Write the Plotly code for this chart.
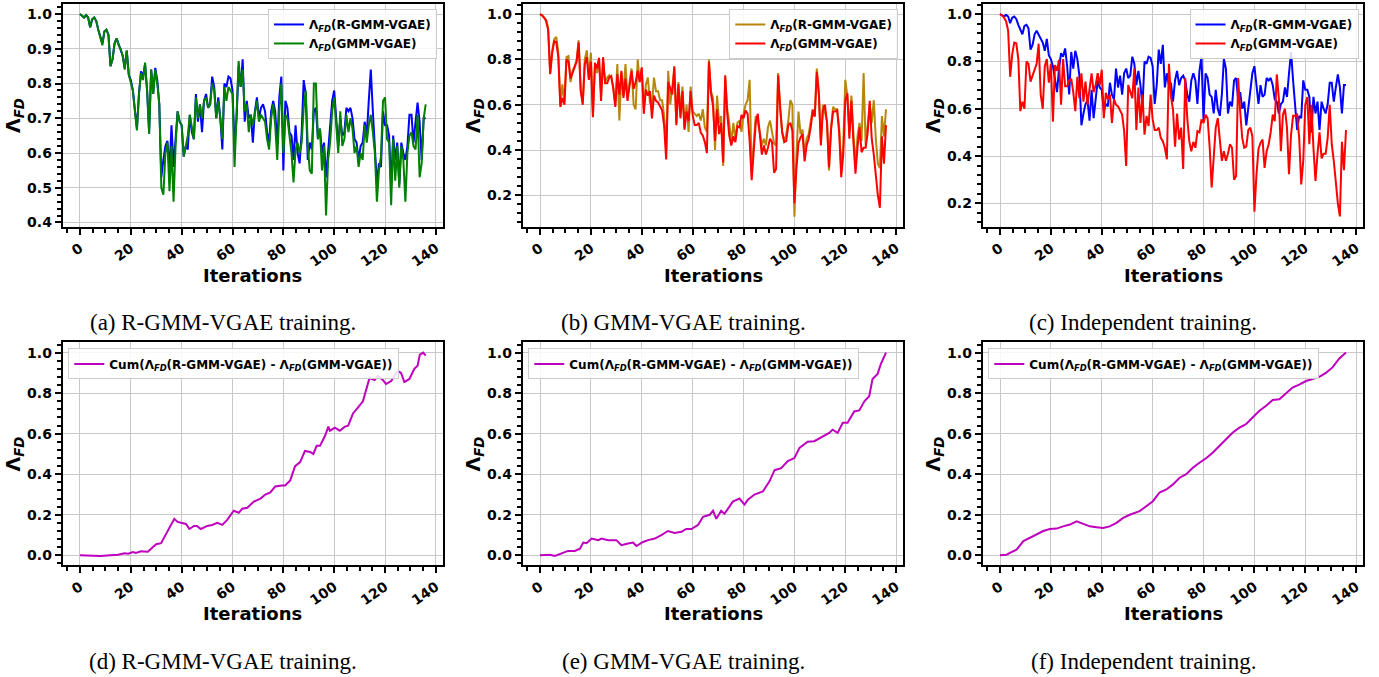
import plotly.graph_objects as go

# ---------------- data ----------------
N_STEP = 0.8
iters = [round(i * N_STEP, 1) for i in range(171)]

fd_rgmm = [1.0, 0.995, 0.99, 0.997, 0.99, 0.962, 0.985, 0.99, 0.98, 0.955,
           0.935, 0.915, 0.95, 0.955, 0.94, 0.85, 0.87, 0.915, 0.93, 0.915,
           0.90, 0.88, 0.845, 0.895, 0.825, 0.81, 0.78, 0.72, 0.67, 0.77,
           0.835, 0.82, 0.855, 0.78, 0.66, 0.84, 0.77, 0.845, 0.81, 0.74,
           0.53, 0.58, 0.62, 0.635, 0.55, 0.68, 0.56, 0.64, 0.72, 0.69,
           0.68, 0.59, 0.62, 0.61, 0.71, 0.66, 0.64, 0.77, 0.69, 0.74,
           0.66, 0.75, 0.77, 0.73, 0.74, 0.82, 0.79, 0.70, 0.76, 0.70,
           0.61, 0.80, 0.79, 0.82, 0.815, 0.78, 0.62, 0.70, 0.85, 0.79,
           0.87, 0.69, 0.75, 0.70, 0.71, 0.63, 0.72, 0.76, 0.70, 0.73,
           0.74, 0.72, 0.66, 0.63, 0.72, 0.75, 0.72, 0.62, 0.76, 0.82,
           0.55, 0.75, 0.73, 0.66, 0.65, 0.58, 0.68, 0.60, 0.57, 0.66,
           0.81, 0.77, 0.58, 0.63, 0.61, 0.72, 0.73, 0.64, 0.67, 0.60,
           0.63, 0.53, 0.60, 0.68, 0.75, 0.78, 0.70, 0.62, 0.70, 0.65,
           0.66, 0.73, 0.72, 0.73, 0.70, 0.64, 0.63, 0.58, 0.62, 0.63,
           0.69, 0.65, 0.75, 0.84, 0.72, 0.63, 0.51, 0.57, 0.56, 0.72,
           0.68, 0.68, 0.65, 0.50, 0.65, 0.58, 0.63, 0.51, 0.63, 0.60,
           0.58, 0.62, 0.71, 0.71, 0.63, 0.69, 0.745, 0.69, 0.58, 0.70,
           0.70]

fd_gmm_a = [1.0, 0.995, 0.99, 0.997, 0.99, 0.962, 0.985, 0.99, 0.98, 0.955,
            0.935, 0.91, 0.95, 0.955, 0.94, 0.85, 0.87, 0.915, 0.93, 0.91,
            0.90, 0.88, 0.84, 0.895, 0.825, 0.80, 0.78, 0.72, 0.665, 0.77,
            0.83, 0.81, 0.86, 0.78, 0.655, 0.84, 0.77, 0.84, 0.80, 0.74,
            0.50, 0.48, 0.60, 0.63, 0.49, 0.62, 0.46, 0.62, 0.72, 0.69,
            0.68, 0.59, 0.62, 0.65, 0.71, 0.68, 0.64, 0.76, 0.70, 0.74,
            0.70, 0.75, 0.76, 0.73, 0.74, 0.80, 0.78, 0.70, 0.75, 0.70,
            0.64, 0.79, 0.75, 0.79, 0.78, 0.77, 0.56, 0.70, 0.865, 0.79,
            0.84, 0.72, 0.74, 0.66, 0.71, 0.68, 0.72, 0.75, 0.69, 0.71,
            0.70, 0.69, 0.64, 0.61, 0.70, 0.74, 0.68, 0.58, 0.72, 0.80,
            0.60, 0.71, 0.70, 0.64, 0.60, 0.515, 0.61, 0.63, 0.60, 0.63,
            0.73, 0.78, 0.62, 0.55, 0.54, 0.80, 0.80, 0.64, 0.67, 0.55,
            0.62, 0.42, 0.58, 0.63, 0.72, 0.76, 0.68, 0.60, 0.72, 0.62,
            0.64, 0.71, 0.66, 0.70, 0.67, 0.60, 0.62, 0.56, 0.60, 0.58,
            0.68, 0.63, 0.68, 0.71, 0.66, 0.60, 0.46, 0.55, 0.59, 0.75,
            0.76, 0.64, 0.63, 0.45, 0.64, 0.52, 0.62, 0.50, 0.62, 0.58,
            0.46, 0.60, 0.65, 0.66, 0.62, 0.61, 0.71, 0.53, 0.57, 0.70,
            0.74]

fd_rgmm_b = [1.0, 0.995, 0.985, 0.975, 0.94, 0.74, 0.84, 0.89, 0.90, 0.83,
             0.60, 0.69, 0.61, 0.81, 0.815, 0.70, 0.75, 0.77, 0.80, 0.885,
             0.67, 0.61, 0.80, 0.84, 0.72, 0.83, 0.56, 0.77, 0.74, 0.80,
             0.65, 0.79, 0.70, 0.72, 0.73, 0.72, 0.68, 0.60, 0.78, 0.53,
             0.74, 0.64, 0.78, 0.63, 0.70, 0.76, 0.60, 0.58, 0.80, 0.70,
             0.76, 0.58, 0.69, 0.72, 0.61, 0.60, 0.72, 0.66, 0.66, 0.62,
             0.62, 0.55, 0.40, 0.75, 0.60, 0.68, 0.76, 0.52, 0.70, 0.57,
             0.68, 0.50, 0.60, 0.48, 0.68, 0.57, 0.56, 0.55, 0.56, 0.53,
             0.58, 0.50, 0.48, 0.80, 0.66, 0.63, 0.40, 0.64, 0.52, 0.55,
             0.33, 0.72, 0.58, 0.52, 0.43, 0.52, 0.45, 0.52, 0.53, 0.48,
             0.56, 0.60, 0.62, 0.71, 0.30, 0.42, 0.55, 0.52, 0.48, 0.42,
             0.45, 0.42, 0.50, 0.53, 0.48, 0.43, 0.42, 0.74, 0.58, 0.48,
             0.44, 0.47, 0.53, 0.62, 0.60, 0.105, 0.38, 0.57, 0.47, 0.49,
             0.38, 0.45, 0.47, 0.52, 0.58, 0.55, 0.76, 0.66, 0.44, 0.60,
             0.57, 0.53, 0.31, 0.50, 0.59, 0.58, 0.58, 0.50, 0.32, 0.42,
             0.71, 0.64, 0.48, 0.64, 0.47, 0.33, 0.46, 0.52, 0.44, 0.74,
             0.42, 0.50, 0.60, 0.52, 0.62, 0.45, 0.34, 0.32, 0.55, 0.46,
             0.58]

fd_gmm = [1.0, 0.995, 0.985, 0.97, 0.93, 0.735, 0.83, 0.88, 0.877, 0.81,
          0.59, 0.63, 0.60, 0.80, 0.79, 0.715, 0.74, 0.765, 0.79, 0.875,
          0.66, 0.60, 0.78, 0.81, 0.71, 0.79, 0.545, 0.785, 0.76, 0.807,
          0.617, 0.81, 0.695, 0.695, 0.72, 0.727, 0.67, 0.59, 0.735, 0.645,
          0.75, 0.63, 0.715, 0.617, 0.695, 0.75, 0.67, 0.70, 0.75, 0.70,
          0.765, 0.56, 0.667, 0.64, 0.66, 0.54, 0.64, 0.617, 0.61, 0.59,
          0.575, 0.505, 0.358, 0.70, 0.67, 0.645, 0.77, 0.51, 0.69, 0.54,
          0.66, 0.49, 0.57, 0.527, 0.66, 0.555, 0.51, 0.51, 0.52, 0.477,
          0.463, 0.435, 0.386, 0.79, 0.65, 0.596, 0.44, 0.58, 0.47, 0.52,
          0.345, 0.73, 0.56, 0.463, 0.42, 0.46, 0.435, 0.505, 0.50, 0.555,
          0.54, 0.575, 0.56, 0.44, 0.267, 0.386, 0.52, 0.56, 0.45, 0.38,
          0.42, 0.38, 0.41, 0.45, 0.435, 0.30, 0.316, 0.73, 0.59, 0.477,
          0.435, 0.44, 0.51, 0.52, 0.484, 0.165, 0.32, 0.43, 0.456, 0.47,
          0.35, 0.42, 0.45, 0.50, 0.575, 0.547, 0.745, 0.645, 0.42, 0.575,
          0.60, 0.52, 0.323, 0.49, 0.57, 0.57, 0.575, 0.477, 0.28, 0.38,
          0.617, 0.65, 0.45, 0.617, 0.435, 0.295, 0.41, 0.50, 0.39, 0.41,
          0.41, 0.477, 0.617, 0.45, 0.38, 0.28, 0.20, 0.145, 0.46, 0.34,
          0.51]

cum_d_x = [0, 4, 8, 12, 15, 17.5, 19, 20.8, 22, 24, 26.7, 28.6, 30, 31.9, 33.2,
           35.2, 37.1, 38.4, 40, 41.7, 43, 44.9, 46, 47.5, 50.1, 52, 54, 56,
           57.9, 60.5, 62.5, 63.8, 65.8, 67, 68.4, 71, 72.9, 74.9, 76.8, 79.4,
           80.7, 82.7, 84.6, 86.6, 88.5, 90.5, 91.8, 93.1, 94.4, 96.4, 97.7,
           98.3, 100.3, 102.2, 104.2, 105.5, 107.4, 109.4, 111.3, 113.9, 115.9,
           117.2, 119.1, 120.4, 122.4, 125, 126.3, 127.6, 129.6, 131.5, 132.8,
           133.7, 135, 136]
cum_d_y = [0.0, -0.001, -0.003, 0.0, 0.003, 0.01, 0.008, 0.016, 0.012, 0.02,
           0.018, 0.04, 0.055, 0.06, 0.09, 0.13, 0.18, 0.165, 0.16, 0.155,
           0.13, 0.145, 0.145, 0.13, 0.145, 0.15, 0.16, 0.15, 0.175, 0.22,
           0.21, 0.23, 0.235, 0.25, 0.265, 0.28, 0.30, 0.31, 0.34, 0.345,
           0.345, 0.37, 0.44, 0.46, 0.515, 0.51, 0.50, 0.54, 0.54, 0.59,
           0.635, 0.615, 0.63, 0.615, 0.635, 0.64, 0.70, 0.73, 0.76, 0.875,
           0.865, 0.885, 0.865, 0.845, 0.86, 0.91, 0.90, 0.855, 0.87, 0.92,
           0.935, 0.99, 1.0, 0.985]

cum_e_x = [0, 3.9, 5.9, 8.5, 11, 13.7, 15.7, 17, 18.3, 20.3, 22.9, 24.2, 26.8,
           30, 32, 34.6, 36.6, 37.9, 40.5, 42.5, 45.1, 47.7, 50.3, 52.9, 55.6,
           57.5, 59.5, 62.1, 64.1, 66.7, 68, 69.3, 71.2, 72.5, 73.9, 75.8,
           78.4, 80.4, 81.7, 84.3, 87.6, 90.2, 92.2, 94.8, 97.4, 100, 102,
           105.2, 107.8, 111.8, 113.7, 115, 117, 119, 120.9, 123.5, 125.5,
           127.5, 129.4, 130.7, 132.7, 134, 136]
cum_e_y = [0.0, 0.003, -0.003, 0.008, 0.022, 0.022, 0.033, 0.063, 0.06, 0.083,
           0.075, 0.083, 0.075, 0.075, 0.05, 0.058, 0.063, 0.046, 0.066, 0.075,
           0.083, 0.10, 0.12, 0.11, 0.116, 0.13, 0.13, 0.15, 0.19, 0.20, 0.22,
           0.18, 0.22, 0.205, 0.23, 0.265, 0.28, 0.25, 0.275, 0.30, 0.315,
           0.365, 0.42, 0.43, 0.465, 0.48, 0.53, 0.56, 0.563, 0.59, 0.604,
           0.62, 0.604, 0.654, 0.654, 0.71, 0.715, 0.76, 0.785, 0.87, 0.895,
           0.945, 1.0]

cum_f_x = [0, 2.6, 3.9, 6.5, 9.2, 11.8, 14.4, 17, 19.6, 22.2, 24.8, 27.5, 30.1,
           32.7, 35.3, 37.9, 40.5, 43.1, 45.8, 48.4, 51, 54.9, 57.5, 60.1,
           62.7, 65.4, 68, 70.6, 73.2, 75.8, 78.4, 81, 83.7, 86.3, 88.9, 91.5,
           94.1, 96.7, 99.3, 102, 104.6, 107.2, 109.8, 112.4, 115, 117.6,
           120.3, 122.9, 125.5, 128.1, 130.7, 133.3, 136]
cum_f_y = [0.0, 0.003, 0.012, 0.028, 0.07, 0.086, 0.10, 0.12, 0.13, 0.132,
           0.143, 0.152, 0.168, 0.155, 0.143, 0.139, 0.135, 0.143, 0.16, 0.185,
           0.20, 0.218, 0.243, 0.267, 0.31, 0.325, 0.35, 0.383, 0.40, 0.432,
           0.457, 0.479, 0.507, 0.54, 0.573, 0.606, 0.63, 0.647, 0.68, 0.713,
           0.738, 0.766, 0.77, 0.80, 0.828, 0.842, 0.86, 0.87, 0.88, 0.90,
           0.927, 0.97, 1.0]

x_ticks = [0, 20, 40, 60, 80, 100, 120, 140]
captions = ["(a) R-GMM-VGAE training.", "(b) GMM-VGAE training.", "(c) Independent training.",
            "(d) R-GMM-VGAE training.", "(e) GMM-VGAE training.", "(f) Independent training."]

# ---------------- styling ----------------
W, H = 1379, 677
BLUE, GREEN, GOLD, RED, MAG = "#0000ff", "#008000", "#b8860b", "#ff0000", "#bf00bf"
LBL = lambda name: "<b>Λ<sub><i>FD</i></sub>(" + name + ")</b>"
CUM = "<b>Cum(Λ<sub><i>FD</i></sub>(R-GMM-VGAE) - Λ<sub><i>FD</i></sub>(GMM-VGAE))</b>"

lefts = [62.7, 522.7, 982.7]
rights = [443.0, 903.3, 1363.3]
row_px = [(4, 228), (344, 568)]

fig = go.Figure()

panels = [
    (0, 0, [(fd_rgmm, iters, BLUE, LBL("R-GMM-VGAE")), (fd_gmm_a, iters, GREEN, LBL("GMM-VGAE"))], [0.387, 1.029], 0.1, 0.02),
    (0, 1, [(fd_rgmm_b, iters, GOLD, LBL("R-GMM-VGAE")), (fd_gmm, iters, RED, LBL("GMM-VGAE"))], [0.06, 1.045], 0.2, 0.04),
    (0, 2, [(fd_rgmm, iters, BLUE, LBL("R-GMM-VGAE")), (fd_gmm, iters, RED, LBL("GMM-VGAE"))], [0.10, 1.043], 0.2, 0.04),
    (1, 0, [(cum_d_y, cum_d_x, MAG, CUM)], [-0.05, 1.05], 0.2, 0.04),
    (1, 1, [(cum_e_y, cum_e_x, MAG, CUM)], [-0.05, 1.05], 0.2, 0.04),
    (1, 2, [(cum_f_y, cum_f_x, MAG, CUM)], [-0.05, 1.05], 0.2, 0.04),
]

tickfont = dict(family="DejaVu Sans", size=14, color="black", weight="bold")
annotations = []
for k, (r, c, trs, yr, ydt, ymin) in enumerate(panels):
    n = k + 1
    xa = "x" if n == 1 else f"x{n}"
    ya = "y" if n == 1 else f"y{n}"
    lg = "legend" if n == 1 else f"legend{n}"
    top, bot = row_px[r]
    xdom = [lefts[c] / W, rights[c] / W]
    ydom = [1 - bot / H, 1 - top / H]
    for yv, xv, col, name in trs:
        fig.add_trace(go.Scatter(x=xv, y=yv, mode="lines", name=name,
                                 line=dict(color=col, width=2), xaxis=xa, yaxis=ya,
                                 legend=lg, showlegend=True))
    axcommon = dict(showline=True, linecolor="black", linewidth=2, mirror=True,
                    ticks="outside", ticklen=6, tickwidth=2, tickcolor="black",
                    showgrid=True, gridcolor="#c8c8c8", gridwidth=1, zeroline=False,
                    tickfont=tickfont)
    fig.layout[xa.replace("x", "xaxis")] = dict(
        domain=xdom, range=[-6.8, 142.8], tickmode="array", tickvals=x_ticks,
        ticktext=[str(t) for t in x_ticks], tickangle=-35, anchor=ya,
        minor=dict(dtick=5, tick0=0, ticks="outside", ticklen=4, tickwidth=1.5,
                   tickcolor="black", showgrid=False),
        **axcommon)
    fig.layout[ya.replace("y", "yaxis")] = dict(
        domain=ydom, range=yr, dtick=ydt, tick0=0, tickformat=".1f", anchor=xa,
        minor=dict(dtick=ymin, tick0=0, ticks="outside", ticklen=4, tickwidth=1.5,
                   tickcolor="black", showgrid=False),
        **axcommon)
    legfont = dict(family="DejaVu Sans", size=12, color="black")
    if r == 0:
        lx_right = [437, 898.3, 1358.5][c]
        fig.layout[lg] = dict(x=lx_right / W, y=1 - 9 / H, xanchor="right", yanchor="top",
                              bgcolor="rgba(255,255,255,0.85)", bordercolor="#cccccc",
                              borderwidth=1, font=legfont, tracegroupgap=0,
                              itemwidth=30)
    else:
        lx_left = [68.3, 528.3, 988.3][c]
        fig.layout[lg] = dict(x=lx_left / W, y=1 - 350 / H, xanchor="left", yanchor="top",
                              bgcolor="rgba(255,255,255,0.85)", bordercolor="#cccccc",
                              borderwidth=1, font=legfont, tracegroupgap=0,
                              itemwidth=30)
    annotations.append(dict(text="<b>Λ<sub><i>FD</i></sub></b>", x=(lefts[c] - 48.2) / W,
                            y=1 - (top + bot) / 2 / H, xref="paper", yref="paper",
                            textangle=-90, showarrow=False, xanchor="center", yanchor="middle",
                            font=dict(family="DejaVu Sans", size=19, color="black")))
    annotations.append(dict(text="<b>Iterations</b>", x=(lefts[c] + rights[c]) / 2 / W,
                            y=1 - (bot + 48.7) / H, xref="paper", yref="paper",
                            showarrow=False, xanchor="center", yanchor="middle",
                            font=dict(family="DejaVu Sans", size=18, color="black")))
    annotations.append(dict(text=captions[k], x=(lefts[c] + 160.6) / W,
                            y=1 - (bot + 96.3) / H, xref="paper", yref="paper",
                            showarrow=False, xanchor="center", yanchor="middle",
                            font=dict(family="Liberation Serif", size=23, color="black")))

fig.update_layout(width=W, height=H, margin=dict(l=0, r=0, t=0, b=0),
                  paper_bgcolor="white", plot_bgcolor="white",
                  annotations=annotations, showlegend=True)

fig.write_html("out.html")
